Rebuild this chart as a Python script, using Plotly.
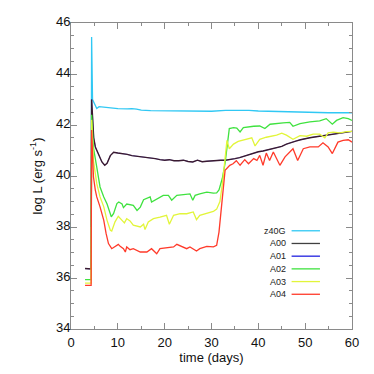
import plotly.graph_objects as go

# ---- data ----
t_z40G = [4.3, 4.4, 4.6, 5.0, 5.5, 6.0, 7.0, 8.0, 9.0, 10, 12, 13, 14, 15, 17, 20, 25, 30, 33, 35, 38, 40, 45, 50, 55, 60]
L_z40G = [38.0, 45.45, 43.0, 42.85, 42.65, 42.72, 42.70, 42.68, 42.66, 42.64, 42.63, 42.64, 42.62, 42.58, 42.56, 42.55,
          42.55, 42.54, 42.57, 42.58, 42.57, 42.55, 42.52, 42.50, 42.48, 42.48]

t_A00 = [3.0, 4.3, 4.4, 4.7, 4.85, 5.2, 5.9, 6.6, 7.2, 7.7, 8.4, 9.1, 10, 11, 12, 13, 14, 15, 16, 17, 18, 19, 20, 21,
         22, 23, 24, 25, 26, 27, 28, 29, 30, 31, 32, 33, 34, 35, 36, 37, 38, 39, 40, 41, 42, 43, 44, 45, 46, 47, 48,
         49, 50, 51, 52, 53, 54, 55, 56, 57, 58, 59, 60]
L_A00 = [36.37, 36.35, 43.0, 42.05, 41.5, 41.14, 40.81, 40.55, 40.42, 40.5, 40.8, 40.93, 40.9, 40.88, 40.85, 40.8,
         40.78, 40.75, 40.72, 40.7, 40.68, 40.64, 40.62, 40.64, 40.6, 40.6, 40.62, 40.57, 40.55, 40.62, 40.56, 40.58,
         40.6, 40.6, 40.62, 40.62, 40.64, 40.68, 40.72, 40.78, 40.85, 40.9, 40.95, 40.98, 41.02, 41.07, 41.1, 41.16,
         41.25, 41.32, 41.37, 41.42, 41.47, 41.5, 41.53, 41.56, 41.58, 41.62, 41.66, 41.69, 41.71, 41.73, 41.75]

# A01 is not visible in the reference: it lies under A00
t_A01 = list(t_A00)
L_A01 = list(L_A00)

t_A02 = [3.0, 4.3, 4.4, 4.8, 5.5, 6.2, 7.0, 7.7, 8.6, 9.1, 9.8, 10.2, 10.9, 11.2, 11.9, 13.3, 14.1, 14.8, 15.5, 16.9,
         17.2, 18.3, 19.7, 20.8, 21.5, 22.6, 24.7, 25.4, 26.0, 26.5, 27.5, 29.0, 30.4, 31.1, 31.6, 32.3, 32.9, 33.8,
         34.7, 35.4, 36.1, 36.8, 39.0, 40.3, 41.4, 42.5, 45.3, 46.7, 47.4, 48.9, 51.0, 53.1, 54.5, 55.8, 56.7, 58.1,
         59.2, 60]
L_A02 = [35.94, 35.94, 42.4, 41.1, 40.35, 39.57, 39.18, 38.9, 38.4, 38.53, 38.92, 38.98, 38.9, 38.76, 38.9, 38.85,
         38.65, 38.78, 39.07, 39.18, 38.98, 39.1, 39.24, 39.24, 39.05, 39.24, 39.27, 39.3, 39.05, 39.24, 39.3, 39.37,
         39.33, 39.34, 39.45, 39.9, 40.5, 41.86, 41.9, 41.88, 41.73, 41.9, 41.95, 41.96, 41.86, 42.03, 42.08, 42.1,
         41.95, 42.05, 42.12, 42.16, 42.25, 42.03, 42.18, 42.29, 42.25, 42.18]

t_A03 = [3.0, 4.3, 4.4, 4.8, 5.5, 6.2, 7.0, 7.7, 8.4, 8.7, 9.4, 10.1, 10.9, 11.4, 11.9, 12.6, 13.3, 14.8, 15.5, 15.8,
         16.5, 17.6, 19.0, 20.4, 21.0, 21.9, 23.3, 24.7, 26.1, 26.8, 27.5, 29.0, 30.4, 31.1, 31.8, 32.4, 33.0, 33.3,
         33.8, 34.7, 35.7, 37.5, 38.6, 39.3, 40.3, 41.7, 43.9, 45.0, 46.0, 47.4, 48.9, 50.3, 51.7, 53.1, 54.2, 54.9,
         56.0, 57.4, 58.8, 60]
L_A03 = [35.8, 35.8, 42.2, 40.6, 39.7, 39.18, 38.79, 38.26, 37.87, 37.84, 38.2, 38.42, 38.26, 38.16, 38.33, 38.24,
         38.07, 38.0, 38.11, 37.9, 38.2, 38.33, 38.39, 38.46, 38.11, 38.46, 38.52, 38.52, 38.59, 38.29, 38.46, 38.55,
         38.61, 38.7, 39.0, 39.8, 40.9, 41.4, 41.07, 41.25, 41.36, 41.46, 41.5, 41.18, 41.44, 41.52, 41.6, 41.68,
         41.6, 41.44, 41.58, 41.56, 41.64, 41.64, 41.5, 41.69, 41.72, 41.69, 41.74, 41.75]

t_A04 = [3.0, 4.3, 4.4, 4.8, 5.2, 5.5, 6.2, 7.0, 7.5, 8.0, 8.7, 9.4, 10.1, 10.5, 11.2, 11.6, 11.9, 12.6, 13.3, 14.8,
         16.2, 17.2, 17.9, 18.3, 19.0, 20.4, 21.9, 22.6, 23.6, 24.7, 25.4, 26.1, 26.8, 27.5, 29.0, 30.4, 31.1, 31.6,
         32.2, 32.9, 33.9, 34.6, 35.3, 36.1, 37.1, 37.9, 39.0, 39.7, 40.3, 41.0, 41.7, 42.4, 43.2, 43.7, 44.6, 45.7,
         46.7, 47.4, 48.4, 49.6, 51.0, 52.8, 53.8, 54.9, 55.8, 57.0, 58.1, 59.2, 60]
L_A04 = [35.71, 35.71, 41.8, 39.96, 39.44, 39.18, 38.79, 38.26, 37.74, 37.35, 37.15, 37.24, 37.32, 37.24, 37.15,
         37.02, 37.22, 37.11, 37.15, 37.02, 37.02, 37.15, 37.02, 36.95, 37.15, 37.19, 37.22, 37.32, 37.24, 37.15,
         37.22, 37.15, 37.06, 37.15, 37.24, 37.22, 37.28, 37.8, 39.05, 40.22, 40.42, 40.48, 40.6, 40.42, 40.64,
         40.48, 40.68, 40.61, 40.81, 40.42, 40.9, 40.61, 40.94, 40.75, 40.42, 40.75, 40.94, 41.07, 40.61, 41.07,
         41.14, 41.14, 41.3, 41.14, 40.88, 41.33, 41.4, 41.42, 41.33]

names = ["z40G", "A00", "A01", "A02", "A03", "A04"]
line_colors = ["#30c8f4", "#3a1a30", "#2020e0", "#3fe23f", "#e2f53a", "#ff3a2a"]
legend_colors = ["#30c8f4", "#404040", "#2020e0", "#3fe23f", "#e2f53a", "#ff3a2a"]
line_widths = [1.3, 1.4, 0.5, 1.3, 1.3, 1.3]

series = {
    "z40G": (t_z40G, L_z40G),
    "A00": (t_A00, L_A00),
    "A01": (t_A01, L_A01),
    "A02": (t_A02, L_A02),
    "A03": (t_A03, L_A03),
    "A04": (t_A04, L_A04),
}

fig = go.Figure()
draw_order = ["z40G", "A01", "A00", "A02", "A03", "A04"]
for n in draw_order:
    i = names.index(n)
    t, L = series[n]
    fig.add_trace(go.Scatter(x=t, y=L, mode="lines", name=n,
                             line=dict(color=line_colors[i], width=line_widths[i]),
                             showlegend=False))

# legend drawn as text + sample lines (labels left, lines right, as in the reference)
row0 = 0.321
dy = 0.0415
for i, n in enumerate(names):
    yy = row0 - i * dy
    fig.add_annotation(xref="paper", yref="paper", x=0.771, y=yy, text=n, showarrow=False,
                       xanchor="right", yanchor="middle",
                       font=dict(family="Liberation Sans, Arial", size=9, color="#222222"))
    fig.add_shape(type="line", xref="paper", yref="paper", x0=0.785, x1=0.886, y0=yy, y1=yy,
                  line=dict(color=legend_colors[i], width=1.3))

axis_common = dict(showline=True, linecolor="#8a8a8a", linewidth=1, mirror="allticks",
                   ticks="inside", ticklen=6, tickcolor="#8a8a8a", tickwidth=1,
                   showgrid=False, zeroline=False, automargin=False,
                   tickfont=dict(family="Liberation Sans, Arial", size=13, color="#111111"))

fig.update_xaxes(range=[0, 60], dtick=10, tick0=0, ticklabelstandoff=1,
                 minor=dict(dtick=5, ticks="inside", ticklen=3, tickcolor="#8a8a8a", showgrid=False),
                 title=dict(text="time (days)", standoff=0,
                            font=dict(family="Liberation Sans, Arial", size=13, color="#111111")),
                 **axis_common)
fig.update_yaxes(range=[34, 46], dtick=2, tick0=34, ticklabelstandoff=-3, ticklabelshift=-2,
                 minor=dict(dtick=0.5, ticks="inside", ticklen=3, tickcolor="#8a8a8a", showgrid=False),
                 title=dict(text="log L (erg s<sup>-1</sup>)", standoff=10,
                            font=dict(family="Liberation Sans, Arial", size=13, color="#111111")),
                 **axis_common)

fig.update_layout(width=374, height=374, margin=dict(l=71, r=22, t=23, b=45, pad=0),
                  plot_bgcolor="white", paper_bgcolor="white", showlegend=False)

fig.write_html("out.html", config={"displayModeBar": False},
               post_script="document.body.style.margin='0';document.body.style.padding='0';")
